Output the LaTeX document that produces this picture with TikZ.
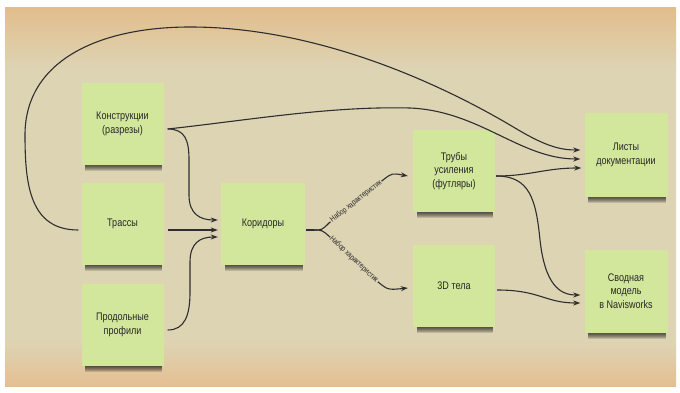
\documentclass[tikz,border=0pt]{standalone}
\usepackage{fontspec}
\setmainfont{Liberation Sans}[FakeStretch=0.82]
\usetikzlibrary{arrows.meta}
\definecolor{ortop}{HTML}{E2BD8C}
\definecolor{orbot}{HTML}{E5BF92}
\definecolor{beige}{HTML}{DDD4B4}
\definecolor{boxgreen}{HTML}{D3E79C}
\definecolor{linecol}{HTML}{2E2E2E}
\pgfdeclareverticalshading{bgshade}{100bp}{color(0bp)=(orbot); color(25bp)=(orbot); color(31bp)=(beige); color(67bp)=(beige); color(75bp)=(ortop); color(100bp)=(ortop)}
\begin{document}
\begin{tikzpicture}[x=1pt,y=-1pt,
  note/.style={fill=boxgreen, minimum width=82pt, minimum height=82pt, align=center,
    font=\fontsize{11}{13.5}\selectfont, text=black!85, inner sep=1pt},
  conn/.style={draw=linecol, line width=1.1pt, -{Stealth[length=7pt,width=5pt]}},
  plain/.style={draw=linecol, line width=1.1pt},
  lbl/.style={font=\fontsize{7.8}{8}\selectfont, text=black!85, inner sep=0.8pt, fill=beige, sloped}]
\useasboundingbox (0,0) rectangle (680,393);
\fill[white] (0,0) rectangle (680,393);
\shade[shading=bgshade] (5,8) rectangle (676,386);

\node[note] (kon) at (122.5,124) {Конструкции\\(разрезы)};
\node[note] (tra) at (122.5,224) {Трассы};
\node[note] (pro) at (122.5,325) {Продольные\\профили};
\node[note, minimum width=84pt] (kor) at (263,224) {Коридоры};
\node[note] (tru) at (454,171) {Трубы\\усиления\\(футляры)};
\node[note] (td) at (454,286) {3D тела};
\node[note, minimum width=83pt, minimum height=84pt] (lis) at (626,155) {Листы\\документации};
\node[note, minimum width=83pt, minimum height=83pt] (svo) at (626,291) {Сводная\\модель\\в Navisworks};

% shadows under the notes
\foreach \n in {kon,tra,pro,kor,tru,td,lis,svo}{
  \foreach \k in {1,...,6}{
    \fill[black, opacity=0.14] ([shift={(4,0)}]\n.south west) rectangle ([shift={(-2,\k)}]\n.south east);
  }
}

% big loop from Трассы to Листы
\draw[conn] ([shift={(-3,6)}]tra.west) .. controls (30,230) and (25,185) .. (25,135)
  .. controls (25,60) and (100,27) .. (190,27)
  .. controls (330,27) and (460,95) .. (515,128)
  .. controls (545,146) and (560,150) .. ([shift={(-4,-5)}]lis.west);
% Конструкции -> Листы
\draw[conn] ([shift={(4,5)}]kon.east) .. controls (250,120) and (330,106) .. (410,108)
  .. controls (480,111) and (520,159) .. ([shift={(-4,4)}]lis.west);
% Конструкции -> Коридоры
\draw[conn] ([shift={(4,5)}]kon.east) .. controls (185,129) and (189,140) .. (189,160)
  -- (189,195) .. controls (189,214) and (200,220) .. ([shift={(-3,-4)}]kor.west);
% Трассы -> Коридоры
\draw[conn] ([shift={(4,6)}]tra.east) -- ([shift={(-3,6)}]kor.west);
% Продольные -> Коридоры
\draw[conn] ([shift={(4,5)}]pro.east) .. controls (185,330) and (190,315) .. (190,292)
  -- (190,262) .. controls (190,243) and (200,237) .. ([shift={(-3,13)}]kor.west);
% Коридоры -> Трубы / 3D тела
\coordinate (split) at ([shift={(9,6)}]kor.east);
\draw[plain] ([shift={(1,6)}]kor.east) -- (split);
\draw[conn] (split) .. controls (322,230) .. (329,223) -- node[lbl] (l1) {Набор характеристик} (383,180)
  .. controls (392,173) .. ([shift={(-5,5)}]tru.west);
\draw[conn] (split) .. controls (322,230) .. (330,237) -- node[lbl] (l2) {Набор характеристик} (378,282)
  .. controls (388,290) .. ([shift={(-5,2)}]td.west);
% Трубы -> Листы / Сводная
\draw[conn] ([shift={(1,5)}]tru.east) .. controls (530,176) and (545,168) .. ([shift={(-3,13)}]lis.west);
\draw[conn] ([shift={(1,5)}]tru.east) .. controls (530,176) and (536,200) .. (540,240)
  .. controls (545,285) and (560,295) .. ([shift={(-4,4)}]svo.west);
% 3D тела -> Сводная
\draw[conn] ([shift={(2,4)}]td.east) .. controls (540,290) and (545,303) .. ([shift={(-4,12)}]svo.west);
\end{tikzpicture}
\end{document}
